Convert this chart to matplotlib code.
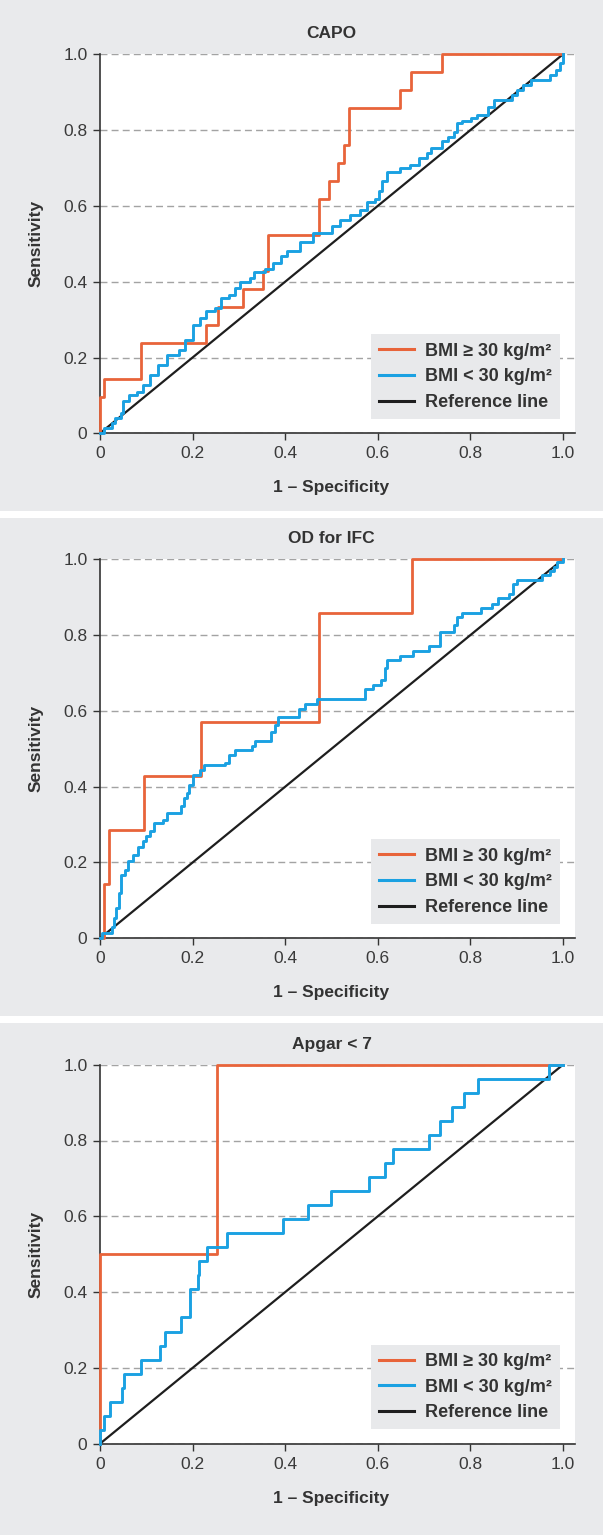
import matplotlib
matplotlib.use('Agg')
import matplotlib.pyplot as plt
from matplotlib import font_manager as fm
from matplotlib.patches import Rectangle
from matplotlib.lines import Line2D


def pick(families):
    for f in families:
        try:
            fm.findfont(fm.FontProperties(family=f), fallback_to_default=False)
            return f
        except Exception:
            pass
    return 'DejaVu Sans'


FONT = pick(['Liberation Sans', 'Arial', 'DejaVu Sans'])
plt.rcParams['font.family'] = [FONT, 'DejaVu Sans']

# ---------------- data ----------------
titles = ['CAPO', 'OD for IFC', 'Apgar < 7']
legend_labels = ['BMI ≥ 30 kg/m²', 'BMI < 30 kg/m²', 'Reference line']
x_ticks = [0, 0.2, 0.4, 0.6, 0.8, 1.0]
x_tick_labels = ['0', '0.2', '0.4', '0.6', '0.8', '1.0']
y_ticks = [0, 0.2, 0.4, 0.6, 0.8, 1.0]
y_tick_labels = ['0', '0.2', '0.4', '0.6', '0.8', '1.0']
ref_x = [0, 1]
ref_y = [0, 1]

# CAPO
capo_hi_x = [0, 0, 0.008, 0.088, 0.230, 0.254, 0.308, 0.353, 0.362, 0.472, 0.494,
             0.515, 0.526, 0.538, 0.649, 0.671, 0.738, 1.0]
capo_hi_y = [0, 0.095, 0.143, 0.238, 0.286, 0.333, 0.381, 0.429, 0.524, 0.619, 0.667,
             0.714, 0.762, 0.857, 0.905, 0.952, 1.0, 1.0]
capo_lo_x = [0, 0.008, 0.025, 0.033, 0.046, 0.05, 0.062, 0.079, 0.093, 0.108, 0.125,
             0.145, 0.17, 0.183, 0.2, 0.216, 0.228, 0.249, 0.262, 0.278, 0.291, 0.303,
             0.324, 0.332, 0.357, 0.374, 0.39, 0.403, 0.432, 0.461, 0.494, 0.502, 0.519,
             0.54, 0.561, 0.577, 0.594, 0.602, 0.61, 0.619, 0.648, 0.669, 0.689, 0.706,
             0.714, 0.731, 0.739, 0.752, 0.764, 0.772, 0.781, 0.801, 0.814, 0.835, 0.839,
             0.851, 0.872, 0.889, 0.901, 0.914, 0.93, 0.955, 0.972, 0.984, 0.993, 1.0]
capo_lo_y = [0, 0.013, 0.026, 0.04, 0.053, 0.084, 0.101, 0.11, 0.128, 0.154, 0.181,
             0.207, 0.22, 0.247, 0.286, 0.304, 0.322, 0.33, 0.357, 0.366, 0.383, 0.398,
             0.41, 0.425, 0.433, 0.449, 0.469, 0.482, 0.504, 0.529, 0.529, 0.546, 0.564,
             0.577, 0.59, 0.61, 0.618, 0.639, 0.665, 0.689, 0.7, 0.709, 0.726, 0.739,
             0.753, 0.753, 0.77, 0.783, 0.796, 0.818, 0.825, 0.832, 0.84, 0.84, 0.862,
             0.88, 0.88, 0.893, 0.906, 0.919, 0.932, 0.932, 0.946, 0.959, 0.976, 1.0]

# OD for IFC
od_hi_x = [0, 0.008, 0.019, 0.095, 0.218, 0.473, 0.673, 1.0]
od_hi_y = [0, 0.143, 0.286, 0.429, 0.571, 0.857, 1.0, 1.0]
od_lo_x = [0, 0.004, 0.021, 0.025, 0.031, 0.035, 0.042, 0.046, 0.054, 0.06, 0.071,
           0.081, 0.093, 0.1, 0.108, 0.116, 0.137, 0.145, 0.166, 0.174, 0.181, 0.187,
           0.193, 0.2, 0.216, 0.224, 0.27, 0.278, 0.291, 0.328, 0.334, 0.365, 0.37,
           0.378, 0.384, 0.427, 0.429, 0.443, 0.469, 0.569, 0.573, 0.59, 0.606, 0.615,
           0.619, 0.648, 0.677, 0.71, 0.735, 0.764, 0.771, 0.781, 0.822, 0.847, 0.86,
           0.884, 0.893, 0.901, 0.951, 0.955, 0.972, 0.98, 0.988, 1.0]
od_lo_y = [0, 0.013, 0.013, 0.031, 0.053, 0.079, 0.119, 0.167, 0.181, 0.204, 0.22,
           0.242, 0.256, 0.269, 0.282, 0.304, 0.313, 0.33, 0.33, 0.348, 0.37, 0.383,
           0.405, 0.43, 0.445, 0.456, 0.463, 0.483, 0.496, 0.507, 0.52, 0.52, 0.544,
           0.564, 0.583, 0.583, 0.606, 0.618, 0.632, 0.632, 0.658, 0.669, 0.682, 0.713,
           0.735, 0.744, 0.757, 0.77, 0.808, 0.827, 0.849, 0.858, 0.871, 0.882, 0.897,
           0.908, 0.934, 0.945, 0.945, 0.959, 0.968, 0.981, 0.994, 1.0]

# Apgar < 7
apgar_hi_x = [0, 0, 0.253, 1.0]
apgar_hi_y = [0, 0.5, 1.0, 1.0]
apgar_lo_x = [0, 0, 0.008, 0.021, 0.048, 0.052, 0.088, 0.129, 0.14, 0.174, 0.194,
              0.212, 0.214, 0.231, 0.274, 0.396, 0.449, 0.5, 0.58, 0.616, 0.633, 0.71,
              0.735, 0.76, 0.787, 0.816, 0.97, 1.0]
apgar_lo_y = [0, 0.037, 0.074, 0.111, 0.148, 0.185, 0.222, 0.259, 0.296, 0.333, 0.407,
              0.444, 0.481, 0.519, 0.556, 0.593, 0.630, 0.667, 0.704, 0.741, 0.778, 0.815,
              0.852, 0.889, 0.926, 0.963, 1.0, 1.0]

panels = [
    (titles[0], capo_hi_x, capo_hi_y, capo_lo_x, capo_lo_y),
    (titles[1], od_hi_x, od_hi_y, od_lo_x, od_lo_y),
    (titles[2], apgar_hi_x, apgar_hi_y, apgar_lo_x, apgar_lo_y),
]

# ---------------- style ----------------
W, H = 603, 1535
DPI = 100
BG = '#e9eaec'
ORANGE = '#e8643a'
BLUE = '#1ba1e2'
BLACK = '#1e1e1e'
TXT = '#333333'
XMAX = 1.0251

fig = plt.figure(figsize=(W / DPI, H / DPI), dpi=DPI, facecolor='white')

# gray panel backgrounds (top, bottom in pixels)
panel_px = [(0, 510.5), (518.3, 1016.0), (1023.3, 1535.0)]
for top, bot in panel_px:
    fig.patches.append(Rectangle((0, 1 - bot / H), 1, (bot - top) / H,
                                 transform=fig.transFigure, facecolor=BG,
                                 edgecolor='none', zorder=-10))

# axes (y=0 pixel positions)
axes_bottom_px = [433.3, 938.3, 1443.7]
AX_H = 379.0
AX_L = 100.0
AX_W = 474.6

for (title, hx, hy, lx, ly), ybot in zip(panels, axes_bottom_px):
    ax = fig.add_axes([AX_L / W, 1 - ybot / H, AX_W / W, AX_H / H])
    ax.set_zorder(1)
    ax.set_facecolor('white')
    ax.set_xlim(0, XMAX)
    ax.set_ylim(0, 1)
    for s in ['top', 'right']:
        ax.spines[s].set_visible(False)
    for s in ['left', 'bottom']:
        ax.spines[s].set_color('#333333')
        ax.spines[s].set_linewidth(1.2)
    ax.set_xticks(x_ticks)
    ax.set_xticklabels(x_tick_labels)
    ax.set_yticks(y_ticks)
    ax.set_yticklabels(y_tick_labels)
    ax.tick_params(axis='both', direction='out', length=5, width=1.0,
                   color='#333333', labelsize=12.5, labelcolor='#3a3a3a')
    ax.tick_params(axis='x', pad=4.5)
    ax.tick_params(axis='y', pad=4)
    ax.yaxis.grid(True, color='#a3a3a3', linewidth=1.0, linestyle=(0, (5, 3)))
    ax.set_axisbelow(True)

    ref, = ax.plot(ref_x, ref_y, color=BLACK, linewidth=1.6, zorder=2,
                   solid_capstyle='butt')
    hi, = ax.plot(hx, hy, drawstyle='steps-post', color=ORANGE, linewidth=2.0,
                  zorder=3, clip_on=False)
    lo, = ax.plot(lx, ly, drawstyle='steps-post', color=BLUE, linewidth=2.1,
                  zorder=4, clip_on=False)

    cx = 0.5 / XMAX
    ax.text(cx, 1 + 20.5 / AX_H, title, transform=ax.transAxes, ha='center',
            va='center', fontsize=12.5, fontweight='bold', color=TXT)
    ax.text(cx, -54.4 / AX_H, '1 – Specificity', transform=ax.transAxes,
            ha='center', va='center', fontsize=12.5, fontweight='bold', color=TXT)
    ax.text(-63.5 / AX_W, 0.5, 'Sensitivity', transform=ax.transAxes,
            ha='center', va='center', rotation=90, fontsize=12.5,
            fontweight='bold', color=TXT)

    handles = [Line2D([], [], color=ORANGE, linewidth=2.2),
               Line2D([], [], color=BLUE, linewidth=2.2),
               Line2D([], [], color=BLACK, linewidth=2.2)]
    leg = ax.legend(handles, legend_labels, loc='lower right',
                    bbox_to_anchor=(0.9692, 0.0377), borderaxespad=0,
                    frameon=True, fancybox=False, facecolor='#e8e9eb',
                    edgecolor='none', framealpha=1,
                    prop={'weight': 'bold', 'size': 13},
                    handlelength=1.95, handletextpad=0.6, borderpad=0.45,
                    labelspacing=0.48)
    for t in leg.get_texts():
        t.set_color(TXT)

fig.savefig('out.png', dpi=DPI, facecolor='white')
